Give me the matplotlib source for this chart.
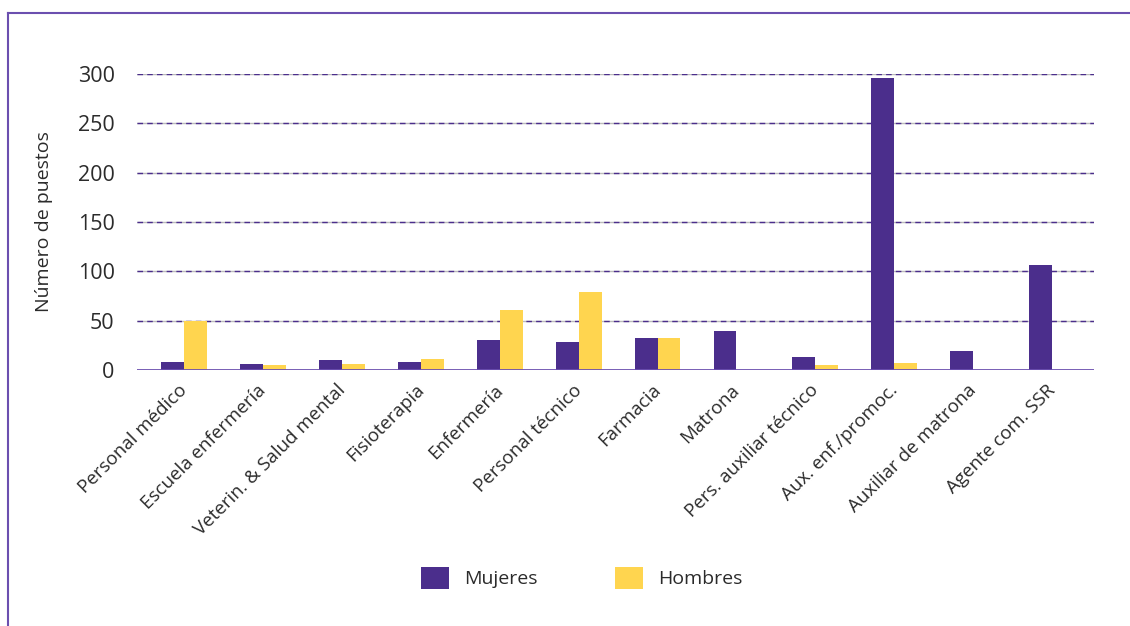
import matplotlib.pyplot as plt
import matplotlib.transforms as mtransforms
from matplotlib.lines import Line2D
from matplotlib.patches import Patch
import numpy as np

# data
categorias = ['Personal médico', 'Escuela enfermería', 'Veterin. & Salud mental',
              'Fisioterapia', 'Enfermería', 'Personal técnico', 'Farmacia', 'Matrona',
              'Pers. auxiliar técnico', 'Aux. enf./promoc.', 'Auxiliar de matrona',
              'Agente com. SSR']
mujeres = [8, 6, 10, 8, 30, 28, 32, 39, 13, 296, 19, 106]
hombres = [50, 5, 6, 11, 61, 79, 32, 0, 5, 7, 0, 0]
yticks = [0, 50, 100, 150, 200, 250, 300]

purple = '#4B2E8C'
yellow = '#FFD54F'
text_col = '#2b2b2b'

plt.rcParams['font.family'] = ['Open Sans', 'DejaVu Sans']

fig = plt.figure(figsize=(11.3, 6.26), dpi=100)
ax = fig.add_axes([0.1212, 0.409, 0.8468, 0.473])

x = np.arange(len(categorias))
w = 0.29
ax.bar(x - w / 2, mujeres, w, color=purple, zorder=3)
ax.bar(x + w / 2, hombres, w, color=yellow, zorder=3)

ax.set_xlim(-0.6, len(categorias) - 0.47)
ax.set_ylim(0, 300)

# dashed grid: grey under, purple dashes on top
for t in yticks[1:]:
    ax.axhline(t, color='#bbbbbb', lw=1.0, zorder=1)
    ax.axhline(t, color=purple, lw=1.0, ls=(0, (4, 3)), zorder=2)
ax.axhline(0, color='#6B4FAF', lw=2, zorder=4)

for s in ax.spines.values():
    s.set_visible(False)

ax.set_yticks(yticks)
ax.set_yticklabels([str(t) for t in yticks], fontsize=15.5, color=text_col)
ax.tick_params(axis='y', length=0, pad=16)
ax.set_xticks(x)
ax.set_xticklabels(categorias, rotation=45, ha='right', rotation_mode='anchor',
                   fontsize=13.5, color=text_col)
ax.tick_params(axis='x', length=0, pad=8)
# nudge the rotated labels a little to the left
shift = mtransforms.ScaledTranslation(-6 / 100, 0, fig.dpi_scale_trans)
for lab in ax.get_xticklabels():
    lab.set_transform(lab.get_transform() + shift)
ax.set_ylabel('Número de puestos', fontsize=14, color=text_col, labelpad=18)

handles = [Patch(facecolor=purple, label='Mujeres'),
           Patch(facecolor=yellow, label='Hombres')]
fig.legend(handles=handles, loc='center', bbox_to_anchor=(0.515, 0.077), ncol=2,
           frameon=False, fontsize=14, handlelength=1.4, handleheight=1.4,
           handletextpad=0.8, columnspacing=4.0, labelcolor=text_col)

# purple frame on left and top
fig.add_artist(Line2D([8 / 1130, 8 / 1130], [0, 1 - 13 / 626], color='#6B4FAF',
                      lw=1.5, transform=fig.transFigure))
fig.add_artist(Line2D([8 / 1130, 1], [1 - 13 / 626, 1 - 13 / 626], color='#6B4FAF',
                      lw=1.5, transform=fig.transFigure))

fig.savefig('out.png', dpi=100)
